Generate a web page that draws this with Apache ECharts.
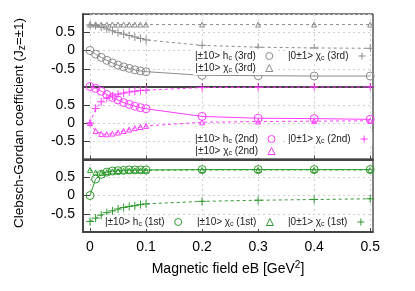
<!DOCTYPE html>
<html><head><meta charset="utf-8">
<script src="https://cdn.jsdelivr.net/npm/echarts@6/dist/echarts.min.js"></script>
<style>html,body{margin:0;padding:0;background:#fff}#c{width:415px;height:291px}</style>
</head><body><div id="c"></div>
<script>
var xs = [0,0.01,0.02,0.03,0.04,0.05,0.06,0.07,0.08,0.09,0.1,0.2,0.3,0.4,0.5];
var xTicks = [0,0.1,0.2,0.3,0.4,0.5];
var yTicks = [-1,-0.5,0,0.5,1];
// panel 1 (3rd)
var hc3 = [0,-0.10,-0.19,-0.27,-0.34,-0.40,-0.45,-0.49,-0.53,-0.56,-0.58,-0.68,-0.69,-0.70,-0.70];
var chiPm3 = [0.71,0.71,0.71,0.71,0.71,0.71,0.71,0.71,0.71,0.71,0.71,0.71,0.71,0.71,0.71];
var chi0_3 = [0.70,0.68,0.64,0.59,0.54,0.49,0.45,0.41,0.37,0.33,0.29,0.14,0.09,0.07,0.06];
// panel 2 (2nd)
var hc2 = [1.0,0.95,0.87,0.78,0.70,0.63,0.56,0.51,0.46,0.42,0.39,0.18,0.13,0.12,0.10];
var chiPm2 = [0,-0.22,-0.30,-0.31,-0.29,-0.26,-0.22,-0.18,-0.14,-0.11,-0.08,0.02,0.04,0.05,0.06];
var chi0_2 = [0,0.40,0.58,0.68,0.74,0.79,0.82,0.85,0.87,0.89,0.90,0.97,0.98,0.99,0.99];
// panel 3 (1st)
var hc1 = [0,0.45,0.58,0.64,0.67,0.68,0.69,0.70,0.70,0.70,0.70,0.71,0.71,0.71,0.71];
var chiPm1 = [0.70,0.63,0.62,0.64,0.66,0.67,0.68,0.68,0.69,0.69,0.69,0.70,0.70,0.70,0.70];
var chi0_1 = [-0.71,-0.62,-0.54,-0.47,-0.42,-0.37,-0.33,-0.30,-0.28,-0.25,-0.23,-0.16,-0.13,-0.11,-0.09];

var FONT = 'Liberation Sans';
var colors = ['#8c8c8c', '#ff3cff', '#2f9a2f'];
var PLUS = 'path://M0,5L10,5M5,0L5,10';
var gridTops = [14, 86.5, 159];
var gridH = 73;

var panels = [
  {ord:'3rd', hc:hc3, pm:chiPm3, z:chi0_3},
  {ord:'2nd', hc:hc2, pm:chiPm2, z:chi0_2},
  {ord:'1st', hc:hc1, pm:chiPm1, z:chi0_1}
];
function pts(a){ return xs.map(function(x,i){ return [x, a[i]]; }); }

var grids=[], xAxes=[], yAxes=[], series=[], legends=[];
var labelMap = {};
panels.forEach(function(p, i){
  var c = colors[i];
  grids.push({left:83, right:42, top:gridTops[i], height:gridH, show:true, borderColor:'#000', borderWidth:1, backgroundColor:'transparent'});
  xAxes.push({gridIndex:i, type:'value', min:-0.0125, max:0.505,
    axisLine:{show:true, onZero:false, lineStyle:{color:'#444', width:2}},
    axisTick:{show:true, inside:true, length:4, customValues:xTicks, lineStyle:{color:'#444'}},
    axisLabel:{show:i===2, customValues:xTicks, margin:8, fontFamily:FONT, fontSize:14, color:'#000'},
    splitLine:{show:true, lineStyle:{color:'#cfcfcf', type:[2,3], width:1}},
    name: i===2 ? '{n|Magnetic field eB [GeV}{sup|2}{n|]}' : '',
    nameLocation:'middle', nameGap:28,
    nameTextStyle:{rich:{n:{fontFamily:FONT, fontSize:14, color:'#000'}, sup:{fontFamily:FONT, fontSize:10, color:'#000', verticalAlign:'top', padding:[0,0,8,0]}}}
  });
  yAxes.push({gridIndex:i, type:'value', min:-1, max:1, interval:0.5,
    axisLine:{show:true, onZero:false, lineStyle:{color:'#444', width:2}},
    axisTick:{show:true, inside:true, length:4, lineStyle:{color:'#444'}},
    axisLabel:{margin:8, fontFamily:FONT, fontSize:14, color:'#000', formatter:function(v){ return Math.abs(v)===1 ? '' : String(v); }},
    splitLine:{show:true, lineStyle:{color:'#cfcfcf', type:[2,3], width:1}},
    name: i===1 ? '{n|Clebsch-Gordan coefficient (J}{sub|z}{n|=±1)}' : '',
    nameLocation:'middle', nameGap:56, nameRotate:90,
    nameTextStyle:{rich:{n:{fontFamily:FONT, fontSize:13.5, color:'#000'}, sub:{fontFamily:FONT, fontSize:10, color:'#000', verticalAlign:'bottom', padding:[6,0,0,0]}}}
  });
  yAxes.push({gridIndex:i, type:'value', min:-1, max:1, interval:0.5, position:'right',
    axisLine:{show:false}, axisTick:{show:true, inside:true, length:4, lineStyle:{color:'#444'}},
    axisLabel:{show:false}, splitLine:{show:false}});
  var nHc = 'hc'+i, nPm = 'pm'+i, nZ = 'z'+i;
  labelMap[nHc] = '|±10> h{s|c} ('+p.ord+')';
  labelMap[nPm] = '|±10> χ{s|c} ('+p.ord+')';
  labelMap[nZ] = '|0±1> χ{s|c} ('+p.ord+')';
  var base = {type:'line', xAxisIndex:i, yAxisIndex:2*i, animation:false, silent:true, emphasis:{disabled:true}, z:3};
  series.push(Object.assign({}, base, {name:nHc, data:pts(p.hc), symbol:'circle', symbolSize:8,
    itemStyle:{color:'none', borderColor:c, borderWidth:1}, lineStyle:{color:c, width:1}}));
  series.push(Object.assign({}, base, {name:nPm, data:pts(p.pm), symbol:'triangle', symbolSize:5,
    itemStyle:{color:'none', borderColor:c, borderWidth:1}, lineStyle:{color:c, width:1, type:[3,3]}}));
  series.push(Object.assign({}, base, {name:nZ, data:pts(p.z), symbol:PLUS, symbolSize:8,
    itemStyle:{color:'none', borderColor:c, borderWidth:1}, lineStyle:{color:c, width:1, type:[3,3]}}));
});

function ld(name, icon, c){
  return {name:name, icon:icon, itemStyle:{color:'none', borderColor:c, borderWidth:1}};
}
var legTxt = {fontFamily:FONT, fontSize:10, color:'#222', padding:[0,5,0,0],
  rich:{s:{fontFamily:FONT, fontSize:7, color:'#222', verticalAlign:'bottom', padding:[5,0,0,0]}}};
function mkLegend(left, top, orient, data){
  return {left:left, top:top, orient:orient, align:'right', itemWidth:7, itemHeight:7, itemGap:0,
    padding:[1,2,1,2], backgroundColor:'#fff', selectedMode:false, data:data,
    formatter:function(n){ return labelMap[n]; }, textStyle:legTxt};
}
legends.push(mkLegend(193, 49, 'vertical', [ld('hc0','circle',colors[0]), ld('pm0','triangle',colors[0])]));
legends.push(mkLegend(286, 49, 'vertical', [ld('z0',PLUS,colors[0])]));
legends.push(mkLegend(193, 132, 'vertical', [ld('hc1','circle',colors[1]), ld('pm1','triangle',colors[1])]));
legends.push(mkLegend(286, 132, 'vertical', [ld('z1',PLUS,colors[1])]));
legends.push(mkLegend(103, 215, 'vertical', [ld('hc2','circle',colors[2])]));
legends.push(mkLegend(195, 215, 'vertical', [ld('pm2','triangle',colors[2])]));
legends.push(mkLegend(286, 215, 'vertical', [ld('z2',PLUS,colors[2])]));

var chart = echarts.init(document.getElementById('c'), null, {renderer:'canvas'});
chart.setOption({animation:false, backgroundColor:'#fff', grid:grids, xAxis:xAxes, yAxis:yAxes, series:series, legend:legends});
</script></body></html>
